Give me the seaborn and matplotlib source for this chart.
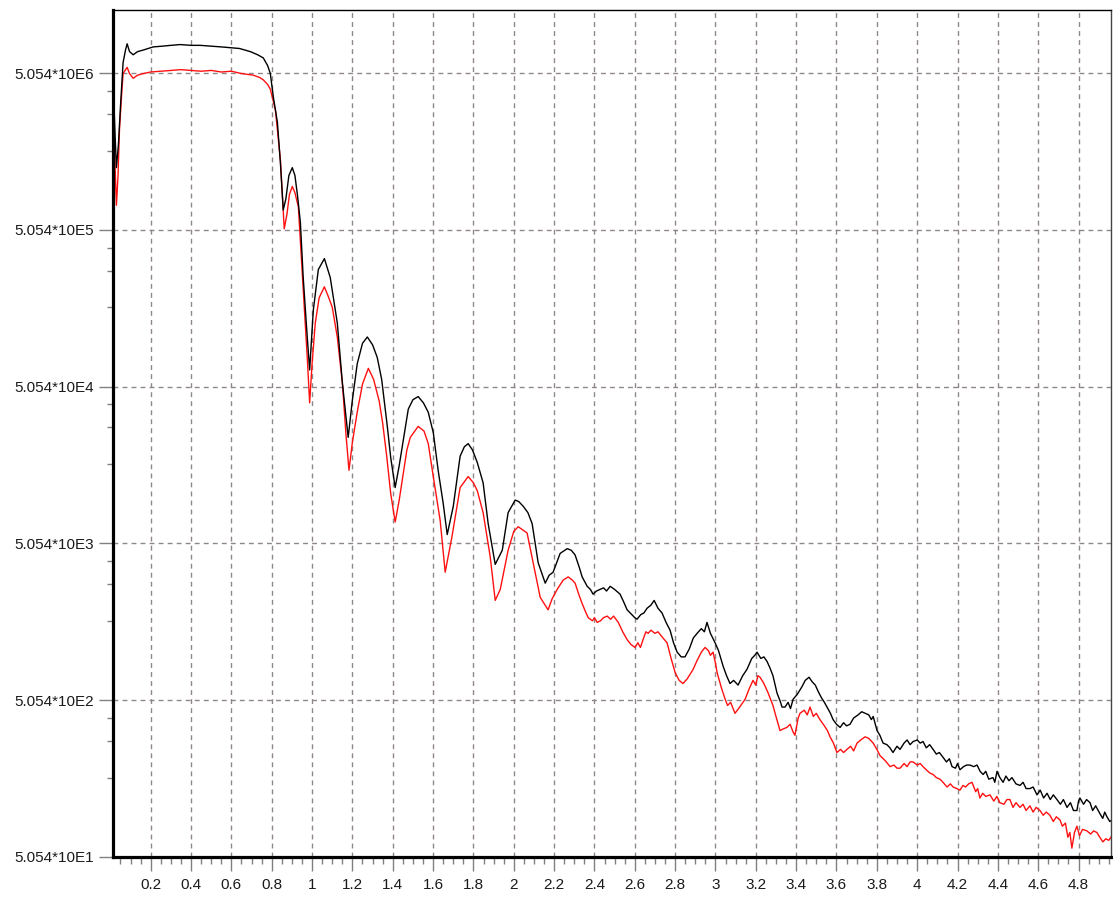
import numpy as np
import pandas as pd
import matplotlib
matplotlib.use("Agg")
import matplotlib.pyplot as plt
import seaborn as sns
from matplotlib.ticker import FixedLocator, MultipleLocator, FuncFormatter, NullFormatter

# ---- measured reflectivity curves: scattering vector and log10(intensity) ----
black_q = [
    0.015, 0.022, 0.030, 0.040, 0.050, 0.063, 0.075, 0.083, 0.095, 0.113, 0.135, 0.163, 0.212, 0.260, 0.300, 0.346, 0.400, 0.445, 0.500, 0.550,
    0.595, 0.640, 0.694, 0.730, 0.758, 0.780, 0.793, 0.808, 0.828, 0.843, 0.857, 0.870, 0.885, 0.902, 0.915, 0.928, 0.942, 0.956, 0.976, 0.988,
    1.006, 1.031, 1.061, 1.090, 1.125, 1.150, 1.179, 1.200, 1.224, 1.250, 1.274, 1.300, 1.323, 1.345, 1.373, 1.390, 1.412, 1.432, 1.452, 1.477,
    1.500, 1.526, 1.552, 1.576, 1.601, 1.625, 1.650, 1.670, 1.700, 1.734, 1.755, 1.774, 1.795, 1.819, 1.848, 1.873, 1.908, 1.943, 1.972, 2.007,
    2.025, 2.047, 2.070, 2.091, 2.121, 2.156, 2.175, 2.195, 2.230, 2.265, 2.285, 2.304, 2.325, 2.339, 2.364, 2.380, 2.393, 2.410, 2.428, 2.445,
    2.460, 2.478, 2.500, 2.527, 2.545, 2.562, 2.585, 2.600, 2.611, 2.630, 2.645, 2.661, 2.680, 2.696, 2.715, 2.735, 2.755, 2.775, 2.792, 2.810,
    2.830, 2.849, 2.870, 2.890, 2.909, 2.930, 2.945, 2.958, 2.975, 2.998, 3.015, 3.038, 3.055, 3.072, 3.090, 3.112, 3.135, 3.156, 3.180, 3.195,
    3.206, 3.225, 3.240, 3.256, 3.270, 3.285, 3.305, 3.320, 3.330, 3.345, 3.360, 3.372, 3.385, 3.405, 3.429, 3.445, 3.464, 3.480, 3.495, 3.509,
    3.525, 3.540, 3.553, 3.570, 3.583, 3.600, 3.618, 3.635, 3.650, 3.667, 3.685, 3.707, 3.725, 3.742, 3.760, 3.773, 3.782, 3.801, 3.815, 3.831,
    3.850, 3.865, 3.880, 3.900, 3.915, 3.935, 3.950, 3.965, 3.980, 4.000, 4.015, 4.029, 4.045, 4.062, 4.079, 4.095, 4.110, 4.128, 4.145, 4.160,
    4.173, 4.190, 4.200, 4.212, 4.230, 4.245, 4.262, 4.280, 4.297, 4.312, 4.327, 4.340, 4.355, 4.376, 4.385, 4.396, 4.410, 4.426, 4.440, 4.455,
    4.470, 4.490, 4.510, 4.525, 4.540, 4.559, 4.575, 4.594, 4.610, 4.627, 4.644, 4.660, 4.675, 4.693, 4.710, 4.725, 4.743, 4.760, 4.775, 4.792,
    4.800, 4.807, 4.825, 4.840, 4.857, 4.870, 4.885, 4.906, 4.920, 4.930, 4.941, 4.955, 4.966,
]
black_log_i = [
    6.60, 6.35, 6.10, 6.25, 6.49, 6.77, 6.85, 6.89, 6.84, 6.82, 6.84, 6.85, 6.87, 6.875, 6.88, 6.885, 6.88, 6.88, 6.875, 6.87,
    6.865, 6.86, 6.84, 6.82, 6.80, 6.75, 6.70, 6.55, 6.39, 6.13, 5.83, 5.90, 6.05, 6.10, 6.05, 5.92, 5.75, 5.40, 5.02, 4.81,
    5.19, 5.45, 5.52, 5.40, 5.11, 4.73, 4.38, 4.62, 4.85, 4.98, 5.02, 4.97, 4.89, 4.75, 4.45, 4.25, 4.06, 4.20, 4.36, 4.56,
    4.62, 4.64, 4.60, 4.54, 4.41, 4.17, 3.96, 3.76, 3.94, 4.26, 4.32, 4.34, 4.30, 4.22, 4.09, 3.83, 3.57, 3.66, 3.90, 3.98,
    3.97, 3.94, 3.90, 3.83, 3.58, 3.45, 3.50, 3.52, 3.64, 3.67, 3.66, 3.63, 3.55, 3.49, 3.43, 3.41, 3.38, 3.40, 3.41, 3.42,
    3.40, 3.43, 3.41, 3.38, 3.33, 3.28, 3.25, 3.23, 3.22, 3.25, 3.26, 3.29, 3.31, 3.34, 3.29, 3.26, 3.20, 3.15, 3.07, 3.01,
    2.98, 2.98, 3.03, 3.10, 3.13, 3.16, 3.14, 3.20, 3.13, 3.07, 3.02, 2.92, 2.86, 2.81, 2.83, 2.80, 2.86, 2.90, 2.97, 2.99,
    3.01, 2.97, 2.98, 2.95, 2.91, 2.86, 2.75, 2.70, 2.66, 2.66, 2.69, 2.65, 2.71, 2.74, 2.79, 2.83, 2.85, 2.82, 2.80, 2.76,
    2.72, 2.69, 2.66, 2.62, 2.58, 2.55, 2.53, 2.56, 2.54, 2.55, 2.59, 2.61, 2.63, 2.62, 2.61, 2.58, 2.60, 2.51, 2.48, 2.43,
    2.42, 2.40, 2.37, 2.41, 2.39, 2.43, 2.45, 2.42, 2.44, 2.45, 2.43, 2.44, 2.40, 2.42, 2.39, 2.36, 2.37, 2.34, 2.31, 2.33,
    2.28, 2.27, 2.30, 2.26, 2.28, 2.29, 2.29, 2.28, 2.29, 2.25, 2.23, 2.25, 2.20, 2.21, 2.18, 2.25, 2.21, 2.18, 2.22, 2.19,
    2.21, 2.17, 2.16, 2.18, 2.14, 2.14, 2.15, 2.10, 2.13, 2.08, 2.11, 2.07, 2.10, 2.07, 2.04, 2.07, 2.02, 2.05, 2.00, 2.00,
    2.06, 2.08, 2.04, 2.07, 2.05, 2.00, 2.03, 1.98, 1.95, 1.99, 1.96, 1.93, 1.94,
]

red_q = [
    0.015, 0.022, 0.030, 0.038, 0.045, 0.055, 0.063, 0.083, 0.095, 0.113, 0.135, 0.163, 0.200, 0.250, 0.300, 0.350, 0.400, 0.450, 0.500, 0.550,
    0.600, 0.650, 0.708, 0.740, 0.758, 0.780, 0.793, 0.818, 0.843, 0.862, 0.875, 0.888, 0.902, 0.915, 0.932, 0.956, 0.976, 0.988, 1.000, 1.016,
    1.035, 1.061, 1.080, 1.100, 1.125, 1.150, 1.168, 1.183, 1.200, 1.225, 1.250, 1.279, 1.305, 1.333, 1.350, 1.370, 1.390, 1.412, 1.432, 1.452,
    1.470, 1.487, 1.526, 1.555, 1.576, 1.601, 1.635, 1.660, 1.694, 1.734, 1.774, 1.800, 1.819, 1.848, 1.883, 1.908, 1.933, 1.972, 2.000, 2.022,
    2.066, 2.096, 2.131, 2.170, 2.190, 2.215, 2.245, 2.270, 2.290, 2.304, 2.322, 2.339, 2.355, 2.369, 2.390, 2.400, 2.413, 2.430, 2.445, 2.463,
    2.480, 2.495, 2.518, 2.540, 2.562, 2.580, 2.601, 2.615, 2.628, 2.641, 2.655, 2.666, 2.680, 2.700, 2.715, 2.740, 2.760, 2.780, 2.800, 2.820,
    2.839, 2.860, 2.889, 2.910, 2.930, 2.948, 2.965, 2.975, 2.988, 3.000, 3.008, 3.030, 3.048, 3.060, 3.075, 3.097, 3.120, 3.147, 3.165, 3.186,
    3.200, 3.210, 3.221, 3.240, 3.261, 3.285, 3.300, 3.320, 3.335, 3.354, 3.370, 3.385, 3.394, 3.410, 3.419, 3.440, 3.455, 3.469, 3.485, 3.500,
    3.518, 3.540, 3.555, 3.568, 3.585, 3.602, 3.620, 3.635, 3.652, 3.670, 3.685, 3.702, 3.720, 3.742, 3.760, 3.782, 3.800, 3.816, 3.840, 3.866,
    3.885, 3.900, 3.915, 3.935, 3.950, 3.965, 3.980, 4.000, 4.015, 4.029, 4.045, 4.062, 4.079, 4.095, 4.113, 4.128, 4.148, 4.165, 4.178, 4.197,
    4.212, 4.227, 4.240, 4.255, 4.272, 4.290, 4.300, 4.311, 4.325, 4.340, 4.361, 4.380, 4.395, 4.410, 4.430, 4.445, 4.460, 4.475, 4.490, 4.510,
    4.525, 4.540, 4.559, 4.575, 4.590, 4.609, 4.625, 4.640, 4.658, 4.675, 4.690, 4.708, 4.720, 4.735, 4.747, 4.757, 4.767, 4.780, 4.792, 4.805,
    4.820, 4.842, 4.860, 4.875, 4.891, 4.905, 4.921, 4.935, 4.950, 4.966,
]
red_log_i = [
    6.47, 6.15, 5.86, 6.05, 6.34, 6.55, 6.70, 6.74, 6.70, 6.67, 6.69, 6.70, 6.71, 6.715, 6.72, 6.725, 6.72, 6.715, 6.72, 6.71,
    6.715, 6.70, 6.69, 6.675, 6.66, 6.63, 6.60, 6.47, 6.15, 5.71, 5.80, 5.93, 5.98, 5.94, 5.85, 5.32, 4.89, 4.60, 4.85, 5.11,
    5.27, 5.34, 5.28, 5.21, 5.02, 4.73, 4.40, 4.17, 4.35, 4.55, 4.72, 4.82, 4.75, 4.61, 4.47, 4.26, 4.02, 3.84, 3.98, 4.15,
    4.30, 4.38, 4.45, 4.42, 4.34, 4.13, 3.85, 3.52, 3.75, 4.06, 4.13, 4.09, 4.04, 3.90, 3.62, 3.34, 3.41, 3.66, 3.78, 3.81,
    3.77, 3.58, 3.36, 3.28, 3.35, 3.41, 3.47, 3.49, 3.47, 3.45, 3.38, 3.32, 3.27, 3.23, 3.21, 3.23, 3.20, 3.21, 3.23, 3.24,
    3.22, 3.24, 3.20, 3.14, 3.09, 3.06, 3.04, 3.07, 3.04, 3.09, 3.14, 3.13, 3.15, 3.13, 3.14, 3.10, 3.07, 2.97, 2.88, 2.83,
    2.81, 2.84, 2.90, 2.96, 3.01, 3.04, 3.02, 2.99, 3.01, 2.94, 2.88, 2.78, 2.71, 2.67, 2.69, 2.62, 2.66, 2.71, 2.77, 2.83,
    2.80, 2.86, 2.85, 2.81, 2.75, 2.67, 2.60, 2.51, 2.52, 2.53, 2.55, 2.50, 2.48, 2.59, 2.62, 2.64, 2.61, 2.66, 2.60, 2.62,
    2.58, 2.54, 2.51, 2.47, 2.43, 2.37, 2.39, 2.37, 2.39, 2.41, 2.38, 2.43, 2.45, 2.47, 2.46, 2.43, 2.39, 2.35, 2.32, 2.28,
    2.29, 2.27, 2.27, 2.30, 2.28, 2.31, 2.31, 2.29, 2.30, 2.28, 2.26, 2.24, 2.23, 2.21, 2.20, 2.18, 2.15, 2.17, 2.15, 2.14,
    2.13, 2.16, 2.15, 2.17, 2.18, 2.12, 2.14, 2.08, 2.11, 2.09, 2.10, 2.06, 2.09, 2.05, 2.04, 2.07, 2.07, 2.02, 2.05, 2.02,
    2.04, 2.00, 2.03, 1.99, 2.02, 2.00, 1.97, 1.99, 1.97, 1.93, 1.96, 1.94, 1.90, 1.92, 1.83, 1.86, 1.76, 1.86, 1.90, 1.84,
    1.88, 1.87, 1.85, 1.87, 1.86, 1.83, 1.80, 1.82, 1.81, 1.84,
]

# axis tick values and labels
y_exponents = [1, 2, 3, 4, 5, 6]
y_mantissa = 5.054
y_tick_labels = [f"5.054*10E{n}" for n in y_exponents]
x_major_step = 0.2
x_minor_step = 0.05

assert len(black_q) == len(black_log_i)
assert len(red_q) == len(red_log_i)

df = pd.concat([
    pd.DataFrame({"q": black_q, "intensity": 10 ** np.array(black_log_i), "series": "black"}),
    pd.DataFrame({"q": red_q, "intensity": 10 ** np.array(red_log_i), "series": "red"}),
], ignore_index=True)

sns.set_style("white")
plt.rcParams["font.family"] = ["Liberation Sans", "DejaVu Sans"]

W, H = 1113, 899
fig = plt.figure(figsize=(W / 100, H / 100), dpi=100)
ax = fig.add_axes([113 / W, 1 - 857 / H, (1111 - 113) / W, (857 - 10) / H])

sns.lineplot(data=df, x="q", y="intensity", hue="series", hue_order=["red", "black"],
             palette={"black": "#000000", "red": "#ff1010"}, estimator=None, sort=False,
             linewidth=1.0, legend=False, ax=ax)

ax.set_yscale("log")
y_major = [y_mantissa * 10 ** n for n in y_exponents]
ax.set_ylim(y_major[0], y_mantissa * 10 ** 6.4018)
ax.set_xlim(0.013, 4.961)

ax.yaxis.set_major_locator(FixedLocator(y_major))
ax.set_yticklabels(y_tick_labels)
y_minor = [v * m for v in y_major for m in (0.77, 0.55, 0.32)] + [y_mantissa * 10 ** 7 * m for m in (0.77, 0.55)]
ax.yaxis.set_minor_locator(FixedLocator(y_minor))
ax.yaxis.set_minor_formatter(NullFormatter())

ax.xaxis.set_major_locator(MultipleLocator(x_major_step))
ax.xaxis.set_minor_locator(MultipleLocator(x_minor_step))
ax.xaxis.set_major_formatter(FuncFormatter(lambda v, p: f"{v:g}"))

ax.set_xlabel("")
ax.set_ylabel("")

tick_col = "#808080"
ax.tick_params(axis="y", which="major", direction="out", length=10, width=1.0, color=tick_col,
               labelsize=11, pad=4, labelcolor="#1a1a1a", left=True)
ax.tick_params(axis="y", which="minor", direction="out", length=4.5, width=1.0, color=tick_col, left=True)
ax.tick_params(axis="x", which="major", direction="out", length=10, width=1.0, color=tick_col,
               labelsize=11, pad=5, labelcolor="#1a1a1a", bottom=True)
ax.tick_params(axis="x", which="minor", direction="out", length=5, width=1.0, color=tick_col, bottom=True)

ax.grid(True, which="major", axis="both", color="#8f8787", linestyle=(0, (3.5, 3)), linewidth=1.0)
ax.set_axisbelow(True)

for side, lw, col in [("left", 2.3, "#000000"), ("bottom", 2.3, "#000000"),
                      ("top", 1.0, "#000000"), ("right", 1.0, "#444444")]:
    ax.spines[side].set_visible(True)
    ax.spines[side].set_linewidth(lw)
    ax.spines[side].set_color(col)

fig.savefig("out.png", dpi=100, facecolor="white")
